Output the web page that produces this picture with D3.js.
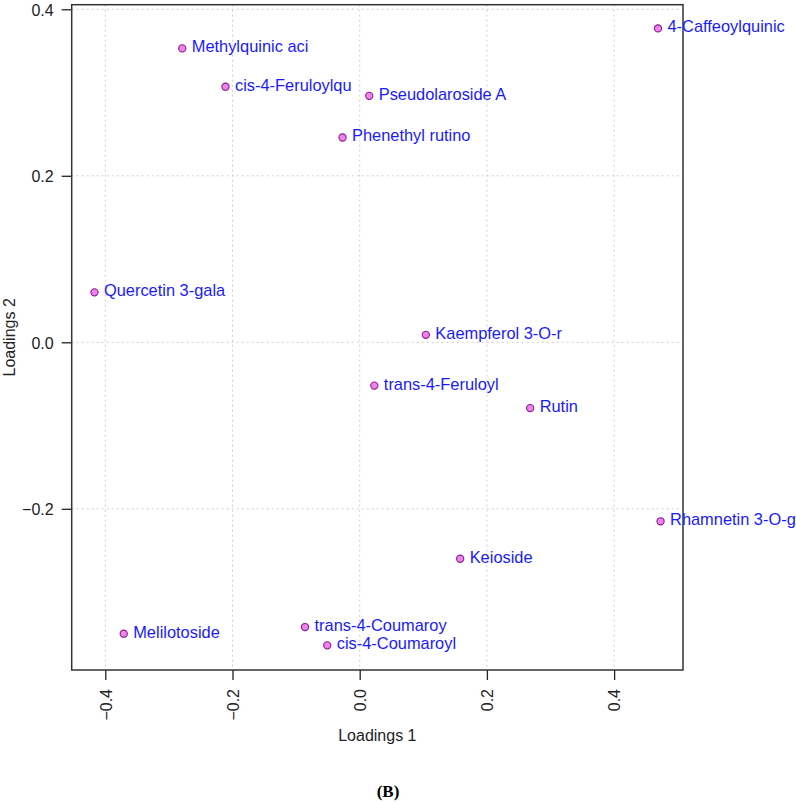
<!DOCTYPE html>
<html>
<head>
<meta charset="utf-8">
<script src="https://cdn.jsdelivr.net/npm/d3@7"></script>
<style>
  html, body { margin: 0; padding: 0; background: #fff; }
  svg { display: block; }
  text { font-family: "Liberation Sans", Arial, sans-serif; }
</style>
</head>
<body>
<svg id="chart" width="796" height="803"></svg>
<script>
const compounds = [
  "Methylquinic aci", "cis-4-Feruloylqu", "Pseudolaroside A", "Phenethyl rutino",
  "4-Caffeoylquinic", "Quercetin 3-gala", "Kaempferol 3-O-r", "trans-4-Feruloyl",
  "Rutin", "Rhamnetin 3-O-g", "Keioside", "Melilotoside",
  "trans-4-Coumaroy", "cis-4-Coumaroyl"
];
const loadings1 = [
  -0.279, -0.211, 0.015, -0.027,
  0.469, -0.417, 0.104, 0.023,
  0.268, 0.473, 0.158, -0.371,
  -0.086, -0.051
];
const loadings2 = [
  0.353, 0.307, 0.296, 0.246,
  0.377, 0.060, 0.009, -0.052,
  -0.079, -0.215, -0.260, -0.350,
  -0.342, -0.364
];
const xTicks = [-0.4, -0.2, 0.0, 0.2, 0.4];
const yTicks = [-0.2, 0.0, 0.2, 0.4];
const xDomain = [-0.4528, 0.5083];
const yDomain = [-0.3936, 0.4055];

const svg = d3.select("#chart");
const L = 71.7, R = 683, T = 4.7, B = 670;

const x = d3.scaleLinear().domain(xDomain).range([L, R]);
const y = d3.scaleLinear().domain(yDomain).range([B, T]);

// grid
const grid = svg.append("g");
grid.selectAll("line.vx").data(xTicks).join("line")
  .attr("x1", d => x(d)).attr("x2", d => x(d))
  .attr("y1", T).attr("y2", B)
  .attr("stroke", "#cfcfcf").attr("stroke-width", 1).attr("stroke-dasharray", "2,3");
grid.selectAll("line.hy").data(yTicks).join("line")
  .attr("y1", d => y(d)).attr("y2", d => y(d))
  .attr("x1", L).attr("x2", R)
  .attr("stroke", "#cfcfcf").attr("stroke-width", 1).attr("stroke-dasharray", "2,3");

// axes
const xAxis = d3.axisBottom(x).tickValues(xTicks).tickFormat(d3.format(".1f")).tickSize(10).tickSizeOuter(0);
const gx = svg.append("g").attr("transform", `translate(0,${B})`).call(xAxis);
gx.select(".domain").remove();
gx.selectAll(".tick line").attr("stroke", "#222").attr("stroke-width", 1.3);
gx.selectAll(".tick text")
  .attr("font-size", 16).attr("fill", "#222")
  .attr("transform", "rotate(-90)")
  .attr("text-anchor", "end")
  .attr("x", -19).attr("y", 0).attr("dy", "0.36em");

const yAxis = d3.axisLeft(y).tickValues(yTicks).tickFormat(d3.format(".1f")).tickSize(10).tickSizeOuter(0);
const gy = svg.append("g").attr("transform", `translate(${L},0)`).call(yAxis);
gy.select(".domain").remove();
gy.selectAll(".tick line").attr("stroke", "#222").attr("stroke-width", 1.3);
gy.selectAll(".tick text").attr("font-size", 16).attr("fill", "#222").attr("x", -18).attr("dy", "0.36em");

// box
svg.append("rect").attr("x", L).attr("y", T).attr("width", R - L).attr("height", B - T)
  .attr("fill", "none").attr("stroke", "#333").attr("stroke-width", 1.5);

// points + labels
const data = compounds.map((n, i) => ({ name: n, a: loadings1[i], b: loadings2[i] }));
const pts = svg.append("g");
pts.selectAll("circle").data(data).join("circle")
  .attr("cx", d => x(d.a)).attr("cy", d => y(d.b)).attr("r", 3.6)
  .attr("fill", "#ee82ee").attr("stroke", "#8b1c8b").attr("stroke-width", 1.1);
pts.selectAll("text").data(data).join("text")
  .attr("x", d => x(d.a) + 9.5).attr("y", d => y(d.b) + 4)
  .attr("font-size", 16.4).attr("fill", "#1a1aff")
  .text(d => d.name);

// axis titles
svg.append("text").attr("x", (L + R) / 2).attr("y", 741)
  .attr("text-anchor", "middle").attr("font-size", 16).attr("fill", "#222")
  .text("Loadings 1");
svg.append("text").attr("transform", `translate(15,${(T + B) / 2}) rotate(-90)`)
  .attr("text-anchor", "middle").attr("font-size", 16).attr("fill", "#222")
  .text("Loadings 2");

// panel label
svg.append("text").attr("x", 388).attr("y", 797)
  .attr("text-anchor", "middle").attr("font-size", 17).attr("font-weight", "bold")
  .attr("fill", "#000").style("font-family", "'Liberation Serif', 'Times New Roman', serif")
  .text("(B)");
</script>
</body>
</html>
